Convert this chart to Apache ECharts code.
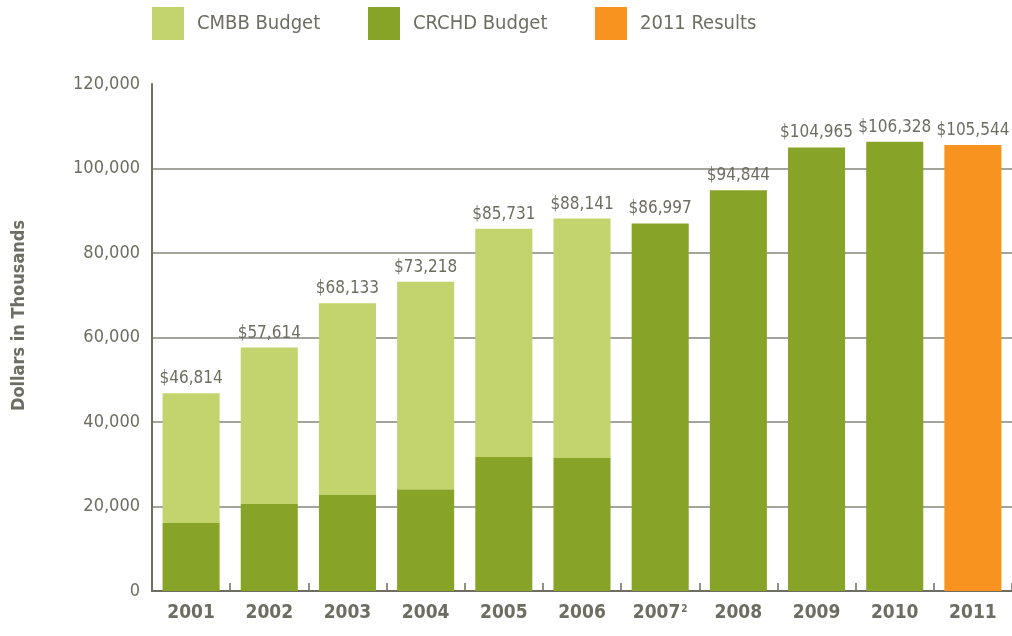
<!DOCTYPE html>
<html>
<head>
<meta charset="utf-8">
<script src="https://cdn.jsdelivr.net/npm/echarts@6/dist/echarts.min.js"></script>
<style>
  html, body { margin: 0; padding: 0; background: #fff; }
  #main { width: 1012px; height: 636px; }
</style>
</head>
<body>
<div id="main"></div>
<script>
// 数据
var years = ['2001', '2002', '2003', '2004', '2005', '2006', '2007', '2008', '2009', '2010', '2011'];
var totals = [46814, 57614, 68133, 73218, 85731, 88141, 86997, 94844, 104965, 106328, 105544];
var crchd = [16100, 20600, 22700, 24100, 31700, 31500, 86997, 94844, 104965, 106328, null];
var cmbb = [30714, 37014, 45433, 49118, 54031, 56641, null, null, null, null, null];
var results2011 = [null, null, null, null, null, null, null, null, null, null, 105544];
var yTicks = [0, 20000, 40000, 60000, 80000, 100000, 120000];

var textColor = '#6d6d62';
var fontName = 'DejaVu Sans Condensed';

function money(v) {
	return '$' + v.toString().replace(/\B(?=(\d{3})+(?!\d))/g, ',');
}

// 只在每根柱子最上面一段显示总额
function topLabels(values, isTop) {
	return values.map(function(v, i) {
		if (v == null) return '-';
		return {
			value: v,
			label: { show: isTop(i), formatter: money(totals[i]) }
		};
	});
}

var chart = echarts.init(document.getElementById('main'), null, { renderer: 'canvas' });

var legendText = { color: textColor, fontFamily: fontName, fontSize: 20, padding: [0, 0, 0, 8] };
var legendBase = { top: 7, padding: 0, itemWidth: 32, itemHeight: 33, icon: 'rect', textStyle: legendText, selectedMode: false };

var option = {
	animation: false,
	color: ['#88a428', '#c3d36e', '#f7931e'],
	legend: [
		Object.assign({ data: ['CMBB Budget'], left: 152 }, legendBase),
		Object.assign({ data: ['CRCHD Budget'], left: 368 }, legendBase),
		Object.assign({ data: ['2011 Results'], left: 595 }, legendBase)
	],
	grid: { left: 152, top: 84, width: 862, bottom: 45, containLabel: false },
	xAxis: {
		type: 'category',
		data: years,
		boundaryGap: true,
		axisLine: { lineStyle: { color: '#6d6d62', width: 2 } },
		axisTick: { show: true, inside: true, interval: 0, length: 8, alignWithLabel: false, lineStyle: { color: '#6d6d62', width: 1.5 } },
		axisLabel: {
			interval: 0,
			color: textColor,
			fontFamily: fontName,
			fontWeight: 'bold',
			fontSize: 19,
			margin: 13,
			formatter: function(v) {
				return v === '2007' ? '2007{sup|2}' : v;
			},
			rich: {
				sup: { fontSize: 10, fontWeight: 'bold', fontFamily: fontName, color: textColor, verticalAlign: 'top', padding: [0, 0, 8, 1] }
			}
		}
	},
	yAxis: {
		type: 'value',
		min: 0,
		max: 120000,
		interval: 20000,
		name: 'Dollars in Thousands',
		nameLocation: 'middle',
		nameGap: 124,
		nameTextStyle: { color: textColor, fontFamily: fontName, fontWeight: 'bold', fontSize: 18, padding: [0, 0, 0, 44] },
		axisLine: { show: true, lineStyle: { color: '#6d6d62', width: 2 } },
		axisTick: { show: false },
		axisLabel: {
			color: textColor,
			fontFamily: fontName,
			fontSize: 18,
			margin: 12,
			formatter: function(v) {
				return v.toString().replace(/\B(?=(\d{3})+(?!\d))/g, ',');
			}
		},
		splitLine: { show: true, showMaxLine: false, lineStyle: { color: '#a4a49c', width: 2 } }
	},
	series: [
		{
			name: 'CRCHD Budget',
			type: 'bar',
			stack: 'budget',
			barWidth: '73%',
			data: topLabels(crchd, function(i) { return cmbb[i] == null; }),
			label: { position: 'top', distance: 6, color: textColor, fontFamily: fontName, fontSize: 17 }
		},
		{
			name: 'CMBB Budget',
			type: 'bar',
			stack: 'budget',
			barWidth: '73%',
			data: topLabels(cmbb, function(i) { return true; }),
			label: { position: 'top', distance: 6, color: textColor, fontFamily: fontName, fontSize: 17 }
		},
		{
			name: '2011 Results',
			type: 'bar',
			stack: 'budget',
			barWidth: '73%',
			data: topLabels(results2011, function(i) { return true; }),
			label: { position: 'top', distance: 6, color: textColor, fontFamily: fontName, fontSize: 17 }
		}
	]
};

chart.setOption(option, true);
</script>
</body>
</html>
